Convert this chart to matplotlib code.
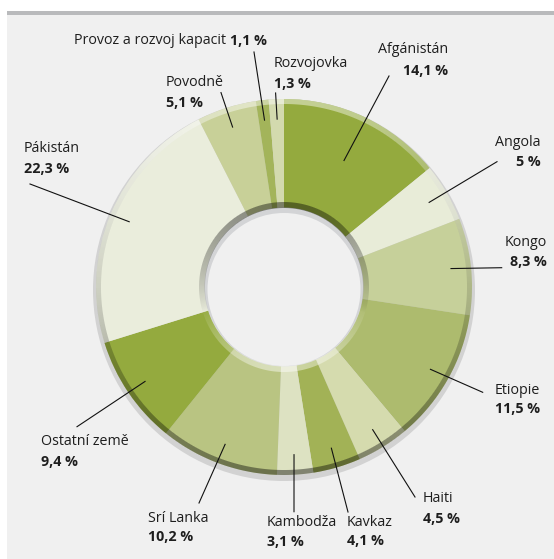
import numpy as np
import matplotlib
matplotlib.use("Agg")
import matplotlib.pyplot as plt
from matplotlib.patches import Circle, Rectangle

# --- DATA ---
names = ["Afgánistán", "Angola", "Kongo", "Etiopie", "Haiti", "Kavkaz", "Kambodža",
         "Srí Lanka", "Ostatní země", "Pákistán", "Povodně",
         "Provoz a rozvoj kapacit", "Rozvojovka"]
shares = [14.1, 5, 8.3, 11.5, 4.5, 4.1, 3.1, 10.2, 9.4, 22.3, 5.1, 1.1, 1.3]
colors = ["#94aa3e", "#e8ecd8", "#c6d09a", "#adbb6e", "#d5dbae", "#a2b256", "#dde2c2",
          "#b9c482", "#94aa3e", "#eaeddc", "#c8d098", "#a3b45a", "#d3daae"]

# --- LAYOUT (pixel coords, y down) ---
W, H = 554, 559
CX, CY = 284, 287
R_OUT, R_IN = 188, 79

# label anchor: x, y of name, y of percentage, alignment
label_pos = [(448, 49.5, 70.7, "right"), (540.7, 142.7, 162, "right"),
             (546.7, 242, 261.7, "right"), (495, 390.7, 409, "left"),
             (423, 498, 519, "left"), (347, 522, 541, "left"),
             (266.7, 522, 542, "left"), (148, 518, 537, "left"),
             (40.7, 441.7, 461.7, "left"), (24, 149, 169, "left"),
             (166, 82, 103, "left"), (73.5, 40.6, None, "left"),
             (274, 63.6, 84, "left")]
leader_from = [(389, 76), (497, 161.7), (501.7, 267.7), (482.7, 392.3), (415, 497),
               (348, 512), (294, 511.7), (199, 503), (77, 426.7), (30, 184),
               (221, 92.6), (254, 52), (275.6, 93)]
leader_r = [140] + [168] * 12

plt.rcParams["font.family"] = ["Open Sans", "DejaVu Sans"]
FS = 10.3
TXT = "#1e1e1e"

fig = plt.figure(figsize=(W / 100, H / 100), dpi=100)
ax = fig.add_axes([0, 0, 1, 1])

# panel
ax.add_patch(Rectangle((7, 15), W - 7, H - 15, color="#f0f0f0", lw=0, zorder=0))
ax.add_patch(Rectangle((7, 11), W - 7, 4, color="#b9babc", lw=0, zorder=0))

# soft shadow under the ring
ax.add_patch(Circle((CX, CY + 3), R_OUT + 3, color="#d2d2d2", lw=0, zorder=1))

# y axis points down, so counterclock in data space runs clockwise on screen
wedges, _ = ax.pie(shares, colors=colors, startangle=270, counterclock=True,
                   center=(CX, CY), radius=R_OUT,
                   wedgeprops=dict(width=R_OUT - R_IN, linewidth=0))
for w in wedges:
    w.set_zorder(2)

ax.set_xlim(0, W)
ax.set_ylim(H, 0)
ax.set_aspect("equal")
ax.axis("off")

# hole
ax.add_patch(Circle((CX, CY), R_IN + 0.5, color="#d3d4d6", lw=0, zorder=3))
ax.add_patch(Circle((CX, CY + 2.5), R_IN - 2.5, color="#f0f0f0", lw=0, zorder=3))

# rim shading as pixel overlays
yy, xx = np.mgrid[0:H, 0:W] + 0.5
dx, dy = xx - CX, yy - CY
rr = np.hypot(dx, dy)
up = -dy / np.maximum(rr, 1e-6)


def band(r0, r1):
    return np.clip(rr - r0 + 0.5, 0, 1) * np.clip(r1 - rr + 0.5, 0, 1)


outer = band(R_OUT - 5, R_OUT)
inner = band(R_IN, R_IN + 6)
black = outer * np.where(up > 0, 0.12 * (1 - up), 0.12 + 0.3 * (-up))
white = outer * 0.45 * np.clip(up, 0, 1)
black += inner * 0.42 * np.clip((up + 0.3) / 1.3, 0, 1) ** 0.7
white += inner * 0.45 * np.clip((-up - 0.2) / 0.8, 0, 1)

blk = np.zeros((H, W, 4))
blk[..., 3] = np.clip(black, 0, 1)
wht = np.ones((H, W, 4))
wht[..., 3] = np.clip(white, 0, 1)
ax.imshow(blk, extent=(0, W, H, 0), interpolation="none", zorder=4)
ax.imshow(wht, extent=(0, W, H, 0), interpolation="none", zorder=4)

# labels and leader lines
renderer = fig.canvas.get_renderer()
for i, name in enumerate(names):
    x, y1, y2, ha = label_pos[i]
    pct = f"{shares[i]:g}".replace(".", ",") + " %"
    t = ax.text(x, y1, name, ha=ha, va="center", fontsize=FS, color=TXT, zorder=6)
    if y2 is None:
        bb = t.get_window_extent(renderer=renderer)
        x2 = ax.transData.inverted().transform((bb.x1, 0))[0] + 4
        ax.text(x2, y1, pct, ha="left", va="center", fontsize=FS,
                fontweight="bold", color=TXT, zorder=6)
    else:
        ax.text(x, y2, pct, ha=ha, va="center", fontsize=FS,
                fontweight="bold", color=TXT, zorder=6)
    w = wedges[i]
    mid = np.radians((w.theta1 + w.theta2) / 2)
    ex = CX + leader_r[i] * np.cos(mid)
    ey = CY + leader_r[i] * np.sin(mid)
    sx, sy = leader_from[i]
    ax.plot([sx, ex], [sy, ey], color="#111111", lw=0.8, zorder=5)

ax.set_xlim(0, W)
ax.set_ylim(H, 0)
fig.savefig("out.png", dpi=100, facecolor="white")
